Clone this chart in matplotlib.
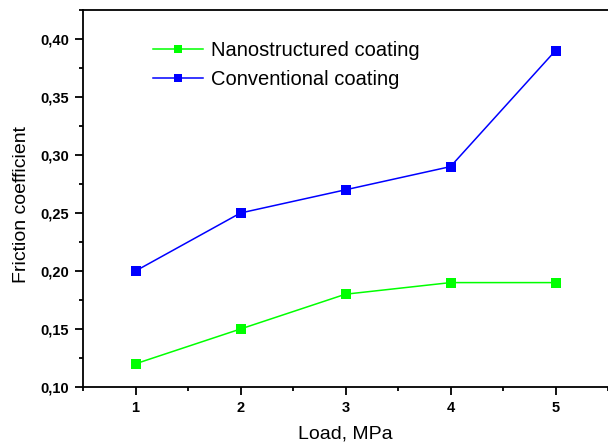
import matplotlib
matplotlib.use("Agg")
import matplotlib.pyplot as plt
from matplotlib.ticker import MultipleLocator, FuncFormatter

plt.rcParams['font.family'] = ['Liberation Sans', 'DejaVu Sans']

load = [1, 2, 3, 4, 5]
nano = [0.12, 0.15, 0.18, 0.19, 0.19]
conv = [0.20, 0.25, 0.27, 0.29, 0.39]

fig = plt.figure(figsize=(6.08, 4.46), dpi=100)
ax = fig.add_axes([83/608, 59/446, (608-83)/608, (387-10)/446])

ax.plot(load, nano, color='#00ff00', marker='s', markersize=6.7, linewidth=1.1,
        markeredgewidth=0, label='Nanostructured coating')
ax.plot(load, conv, color='#0000ff', marker='s', markersize=6.7, linewidth=1.1,
        markeredgewidth=0, label='Conventional coating')

ax.set_xlim(0.5, 5.5)
ax.set_ylim(0.10, 0.425)
ax.xaxis.set_major_locator(MultipleLocator(1))
ax.xaxis.set_minor_locator(MultipleLocator(0.5))
ax.yaxis.set_major_locator(MultipleLocator(0.05))
ax.yaxis.set_minor_locator(MultipleLocator(0.025))
ax.xaxis.set_major_formatter(FuncFormatter(lambda v, p: f"{int(round(v))}"))
ax.yaxis.set_major_formatter(FuncFormatter(lambda v, p: f"{v:.2f}".replace('.', ',')))

ax.tick_params(which='major', direction='out', length=6, width=1.3, labelsize=10.5, pad=4)
ax.tick_params(which='minor', direction='out', length=3, width=1.3)
for lab in ax.get_xticklabels() + ax.get_yticklabels():
    lab.set_fontweight('bold')
for s in ax.spines.values():
    s.set_linewidth(1.3)
ax.spines['right'].set_visible(False)

ax.set_xlabel('Load, MPa', fontsize=14)
ax.set_ylabel('Friction coefficient', fontsize=14)
ax.xaxis.set_label_coords(0.5, -0.101)
ax.yaxis.set_label_coords(-0.101, 0.483)

ax.legend(loc='upper left', bbox_to_anchor=(0.118, 0.94), frameon=False,
          fontsize=14.5, handlelength=2.5, handletextpad=0.4, labelspacing=0.5,
          borderaxespad=0, markerscale=0.85)

fig.savefig('out.png', dpi=100)
